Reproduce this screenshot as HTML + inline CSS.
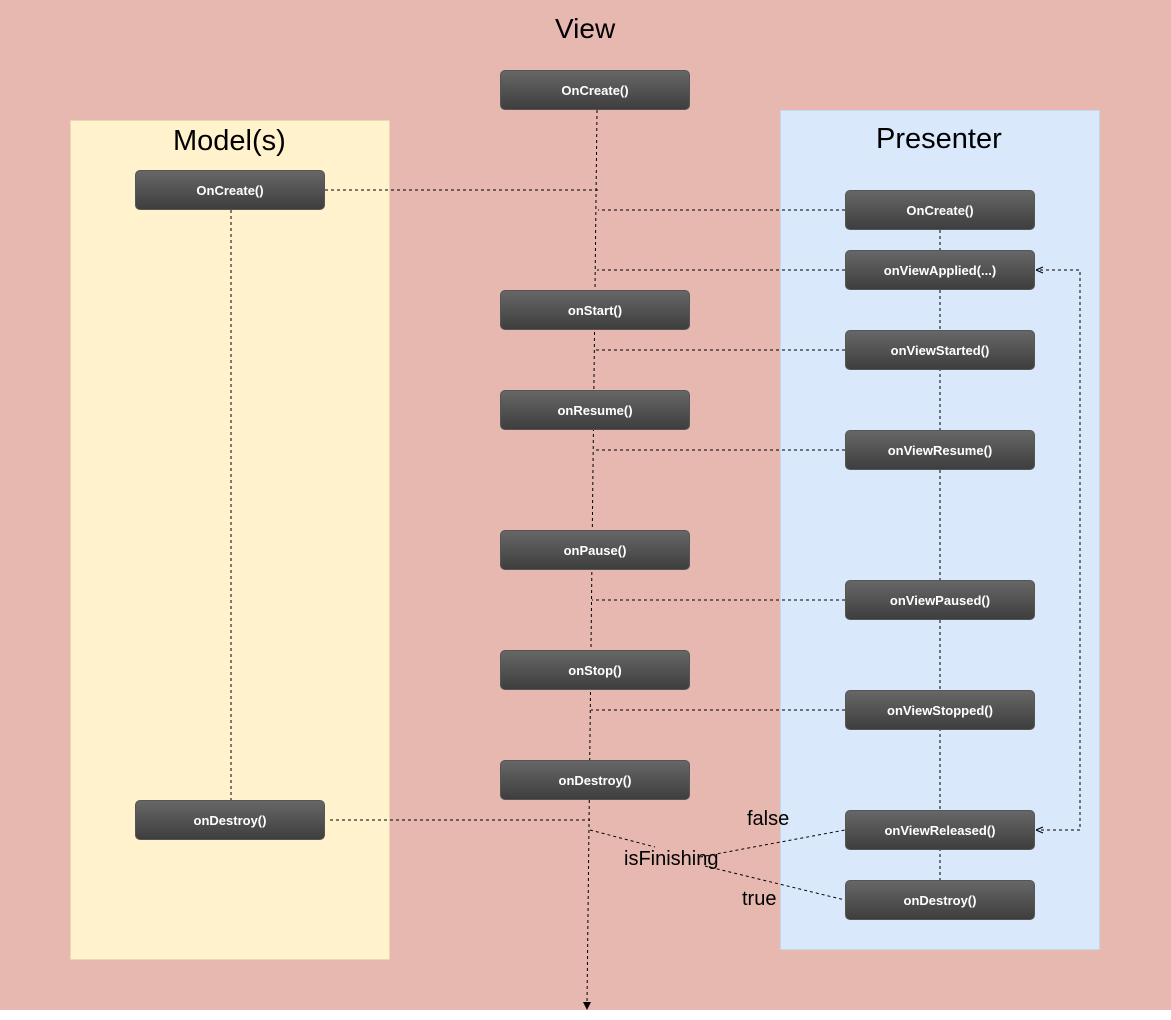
<!DOCTYPE html>
<html><head><style>
body{margin:0;width:1171px;height:1020px;background:#fff;font-family:"Liberation Sans",sans-serif;position:relative;overflow:hidden}
.a{position:absolute}
.b{position:absolute;width:190px;height:40px;border-radius:5px;background:linear-gradient(#676767,#3e3e3e);color:#fff;font-weight:bold;font-size:13px;display:flex;align-items:center;justify-content:center;box-sizing:border-box;border:1px solid #555}
.t{position:absolute;font-size:29px;color:#000}
.l{position:absolute;font-size:20px;color:#000}
</style></head><body>
<div class="a" style="left:0;top:0;width:1171px;height:1010px;background:#e6b8b0"></div>
<div class="a" style="left:70px;top:120px;width:320px;height:840px;background:#fff2cc;border:1px solid #e8d9ae;box-sizing:border-box"></div>
<div class="a" style="left:780px;top:110px;width:320px;height:840px;background:#dae8fc;border:1px solid #c8d6ea;box-sizing:border-box"></div>
<div class="t" style="left:555px;top:13px;font-size:28px">View</div>
<div class="t" style="left:173px;top:125px">Model(s)</div>
<div class="t" style="left:876px;top:123px">Presenter</div>
<svg class="a" style="left:0;top:0" width="1171" height="1020">
<g stroke="#000" stroke-width="1" stroke-dasharray="3,3" fill="none">
<line x1="597" y1="110" x2="587" y2="1004"/>
<line x1="231" y1="210" x2="231" y2="800"/>
<line x1="940" y1="230" x2="940" y2="880"/>
<line x1="325" y1="190" x2="598" y2="190"/>
<line x1="845" y1="210" x2="598" y2="210"/>
<line x1="845" y1="270" x2="597" y2="270"/>
<line x1="845" y1="350" x2="593" y2="350"/>
<line x1="845" y1="450" x2="593" y2="450"/>
<line x1="845" y1="600" x2="592" y2="600"/>
<line x1="845" y1="710" x2="591" y2="710"/>
<line x1="330" y1="820" x2="590" y2="820"/>
<polyline points="590,830 655,847"/>
<polyline points="700,857 845,830"/>
<polyline points="705,866 845,900"/>
<polyline points="1040,270 1080,270 1080,830 1040,830"/>
</g>
<path d="M583,1002 L591,1002 L587,1010 Z" fill="#000"/>
<path d="M1036,270 L1043,267 M1036,270 L1043,273 M1036,830 L1043,827 M1036,830 L1043,833" stroke="#000"/>
</svg>
<div class="b" style="left:500px;top:70px">OnCreate()</div>
<div class="b" style="left:135px;top:170px">OnCreate()</div>
<div class="b" style="left:845px;top:190px">OnCreate()</div>
<div class="b" style="left:845px;top:250px">onViewApplied(...)</div>
<div class="b" style="left:500px;top:290px">onStart()</div>
<div class="b" style="left:845px;top:330px">onViewStarted()</div>
<div class="b" style="left:500px;top:390px">onResume()</div>
<div class="b" style="left:845px;top:430px">onViewResume()</div>
<div class="b" style="left:500px;top:530px">onPause()</div>
<div class="b" style="left:845px;top:580px">onViewPaused()</div>
<div class="b" style="left:500px;top:650px">onStop()</div>
<div class="b" style="left:845px;top:690px">onViewStopped()</div>
<div class="b" style="left:500px;top:760px">onDestroy()</div>
<div class="b" style="left:135px;top:800px">onDestroy()</div>
<div class="b" style="left:845px;top:810px">onViewReleased()</div>
<div class="b" style="left:845px;top:880px">onDestroy()</div>
<div class="l" style="left:747px;top:808px">false</div>
<div class="l" style="left:624px;top:848px">isFinishing</div>
<div class="l" style="left:742px;top:888px">true</div>
</body></html>
